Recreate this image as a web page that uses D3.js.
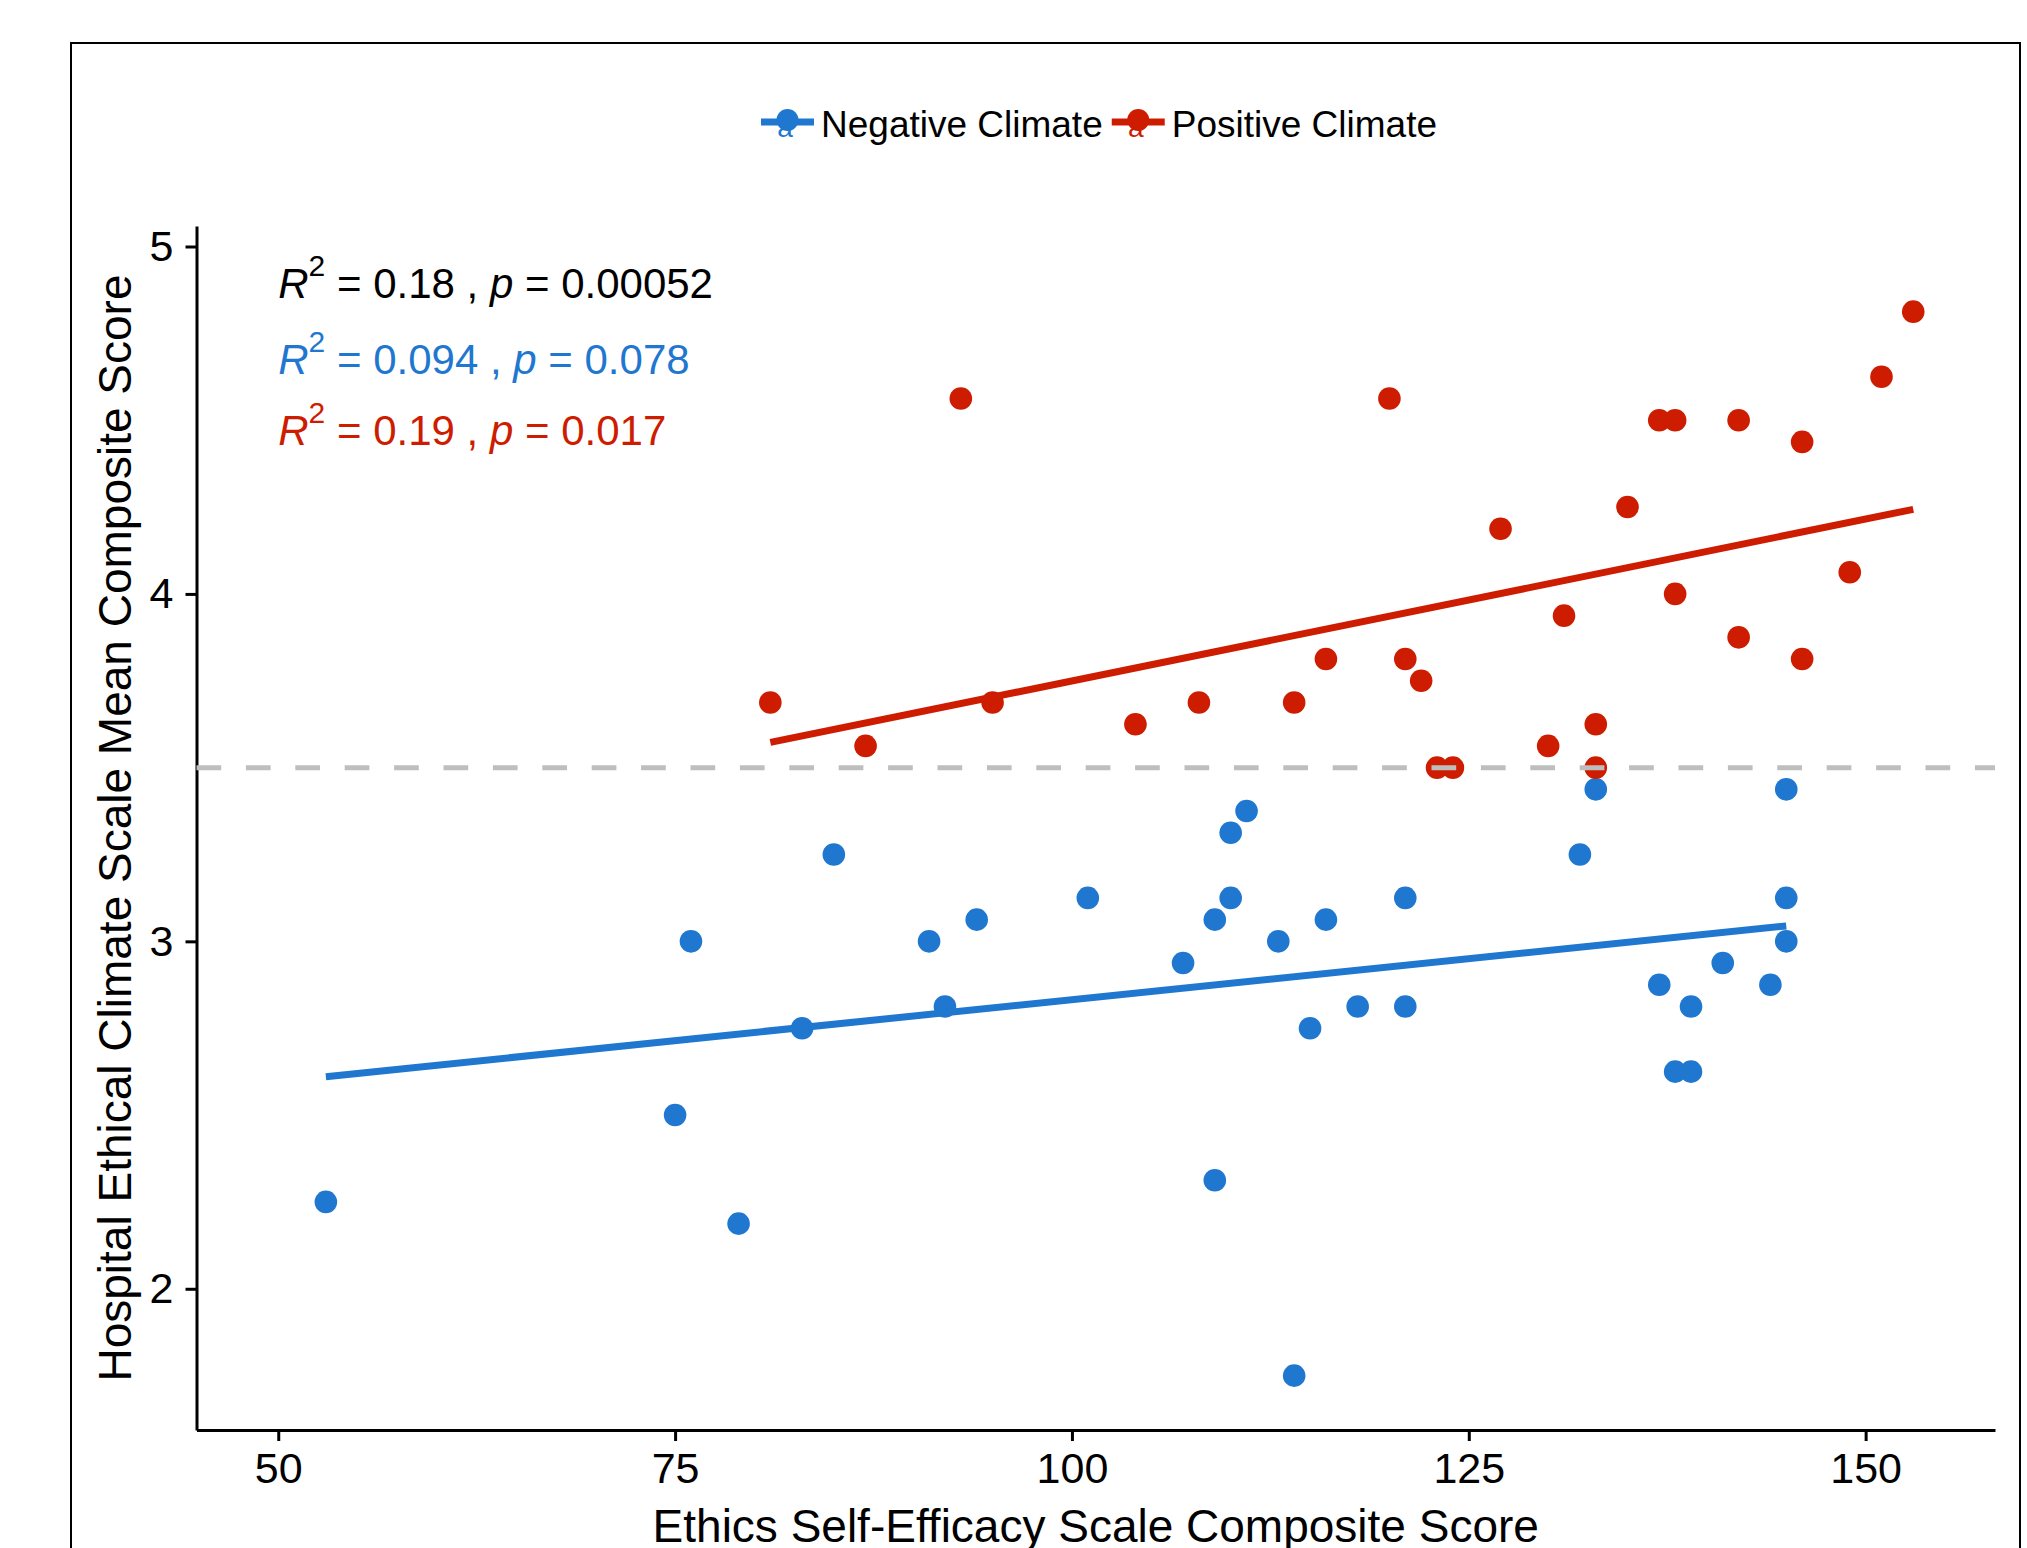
<!DOCTYPE html>
<html>
<head>
<meta charset="utf-8">
<script src="https://cdn.jsdelivr.net/npm/d3@7"></script>
<style>
  body { margin: 0; background: #fff; }
  text { font-family: "Liberation Sans", Arial, Helvetica, sans-serif; }
</style>
</head>
<body>
<div id="chart"></div>
<script>
var width = 2027, height = 1548;

// groups and colours
var groups = ["Negative Climate", "Positive Climate"];
var groupColors = ["#1f77d0", "#cd1c00"];

// Negative climate points (ethics self-efficacy, climate score)
var negX = [53, 75, 76, 79, 83, 85, 91, 92, 94, 101, 107, 109, 109, 110, 110, 111, 113, 114, 115, 116, 118, 121, 121, 132, 133, 137, 138, 139, 139, 141, 144, 145, 145, 145];
var negY = [2.25, 2.5, 3, 2.1875, 2.75, 3.25, 3, 2.8125, 3.0625, 3.125, 2.9375, 3.0625, 2.3125, 3.125, 3.3125, 3.375, 3, 1.75, 2.75, 3.0625, 2.8125, 3.125, 2.8125, 3.25, 3.4375, 2.875, 2.625, 2.625, 2.8125, 2.9375, 2.875, 3.4375, 3.125, 3];

// Positive climate points
var posX = [81, 87, 93, 95, 104, 108, 114, 116, 120, 121, 122, 123, 124, 127, 130, 131, 133, 133, 135, 137, 138, 138, 142, 142, 146, 146, 149, 151, 153];
var posY = [3.6875, 3.5625, 4.5625, 3.6875, 3.625, 3.6875, 3.6875, 3.8125, 4.5625, 3.8125, 3.75, 3.5, 3.5, 4.1875, 3.5625, 3.9375, 3.625, 3.5, 4.25, 4.5, 4.5, 4, 4.5, 3.875, 4.4375, 3.8125, 4.0625, 4.625, 4.8125];

var xTicks = [50, 75, 100, 125, 150];
var yTicks = [2, 3, 4, 5];
var cutoff = 3.5;

// correlation labels: [R2, p] for all, negative, positive
var statR2 = ["0.18", "0.094", "0.19"];
var statP = ["0.00052", "0.078", "0.017"];
var statColors = ["#000000", "#1f77d0", "#cd1c00"];

var svg = d3.select("#chart")
            .append("svg")
            .attr("width", width)
            .attr("height", height);

// outer frame
svg.append("rect")
   .attr("x", 71).attr("y", 43)
   .attr("width", 1949).attr("height", 1600)
   .attr("fill", "none")
   .attr("stroke", "#000")
   .attr("stroke-width", 2);

var pLeft = 196.5, pRight = 1995, pTop = 226, pBottom = 1430;

var x = d3.scaleLinear().domain([44.85, 158.15]).range([pLeft, pRight]);
var y = d3.scaleLinear().domain([1.5935, 5.0590]).range([pBottom, pTop]);

// axes
var xAxis = svg.append("g")
   .attr("transform", "translate(0," + pBottom + ")")
   .call(d3.axisBottom(x).tickValues(xTicks).tickFormat(d3.format("d"))
           .tickSize(11).tickPadding(11).tickSizeOuter(0));
var yAxis = svg.append("g")
   .attr("transform", "translate(" + pLeft + ",0)")
   .call(d3.axisLeft(y).tickValues(yTicks).tickFormat(d3.format("d"))
           .tickSize(11).tickPadding(12).tickSizeOuter(0));

[xAxis, yAxis].forEach(function(a) {
    a.selectAll("path.domain").attr("stroke", "#000").attr("stroke-width", 3);
    a.selectAll(".tick line").attr("stroke", "#000").attr("stroke-width", 3);
    a.selectAll(".tick text")
     .attr("fill", "#000")
     .style("font-size", "43px")
     .style("font-family", "'Liberation Sans', Arial, sans-serif");
});

// axis titles
svg.append("text")
   .attr("x", (pLeft + pRight) / 2)
   .attr("y", 1542)
   .attr("text-anchor", "middle")
   .style("font-size", "46px")
   .text("Ethics Self-Efficacy Scale Composite Score");

svg.append("text")
   .attr("transform", "translate(131," + ((pTop + pBottom) / 2) + ") rotate(-90)")
   .attr("text-anchor", "middle")
   .style("font-size", "46px")
   .text("Hospital Ethical Climate Scale Mean Composite Score");

// points
var series = [
    { xs: negX, ys: negY, color: groupColors[0] },
    { xs: posX, ys: posY, color: groupColors[1] }
];

series.forEach(function(s) {
    var pts = s.xs.map(function(v, i) { return [v, s.ys[i]]; });
    svg.append("g")
       .selectAll("circle")
       .data(pts)
       .enter()
       .append("circle")
       .attr("cx", function(d) { return x(d[0]); })
       .attr("cy", function(d) { return y(d[1]); })
       .attr("r", 11.3)
       .attr("fill", s.color);
});

// least squares fit lines
series.forEach(function(s) {
    var n = s.xs.length;
    var mx = d3.mean(s.xs), my = d3.mean(s.ys);
    var sxy = 0, sxx = 0;
    for (var i = 0; i < n; i++) {
        sxy += (s.xs[i] - mx) * (s.ys[i] - my);
        sxx += (s.xs[i] - mx) * (s.xs[i] - mx);
    }
    var b = sxy / sxx, a = my - b * mx;
    var ext = d3.extent(s.xs);
    svg.append("path")
       .datum(ext.map(function(v) { return [v, a + b * v]; }))
       .attr("d", d3.line().x(function(d) { return x(d[0]); }).y(function(d) { return y(d[1]); }))
       .attr("stroke", s.color)
       .attr("stroke-width", 7)
       .attr("fill", "none");
});

// correlation labels
var statBase = [298, 374, 445];
statR2.forEach(function(r2, i) {
    var t = svg.append("text")
       .attr("x", x(50))
       .attr("y", statBase[i])
       .attr("fill", statColors[i])
       .style("font-size", "42px")
       .style("white-space", "pre");
    t.append("tspan").style("font-style", "italic").text("R");
    t.append("tspan").attr("dy", -22).style("font-size", "30px").text("2");
    t.append("tspan").attr("dy", 22).text(" = " + r2 + " , ");
    t.append("tspan").style("font-style", "italic").text("p");
    t.append("tspan").text(" = " + statP[i]);
});

// dashed cutoff line
svg.append("line")
   .attr("x1", pLeft).attr("x2", pRight)
   .attr("y1", y(cutoff)).attr("y2", y(cutoff))
   .attr("stroke", "#bebebe")
   .attr("stroke-width", 5)
   .attr("stroke-dasharray", "24.7,24.7");

// legend
var legend = svg.append("g");
var lx = 0;
groups.forEach(function(g, i) {
    var item = legend.append("g").attr("transform", "translate(" + lx + ",0)");
    item.append("text")
        .attr("x", 24).attr("y", 137)
        .attr("text-anchor", "middle")
        .attr("fill", groupColors[i])
        .style("font-size", "28px")
        .text("a");
    item.append("line")
        .attr("x1", 0).attr("x2", 53)
        .attr("y1", 122).attr("y2", 122)
        .attr("stroke", groupColors[i])
        .attr("stroke-width", 7);
    item.append("circle")
        .attr("cx", 26.5).attr("cy", 120)
        .attr("r", 11)
        .attr("fill", groupColors[i]);
    var lab = item.append("text")
        .attr("x", 60).attr("y", 137)
        .style("font-size", "37px")
        .attr("fill", "#000")
        .text(g);
    lx += 60 + lab.node().getComputedTextLength() + 9;
});
var lw = lx - 9;
legend.attr("transform", "translate(" + (1099 - lw / 2) + ",0)");
</script>
</body>
</html>
